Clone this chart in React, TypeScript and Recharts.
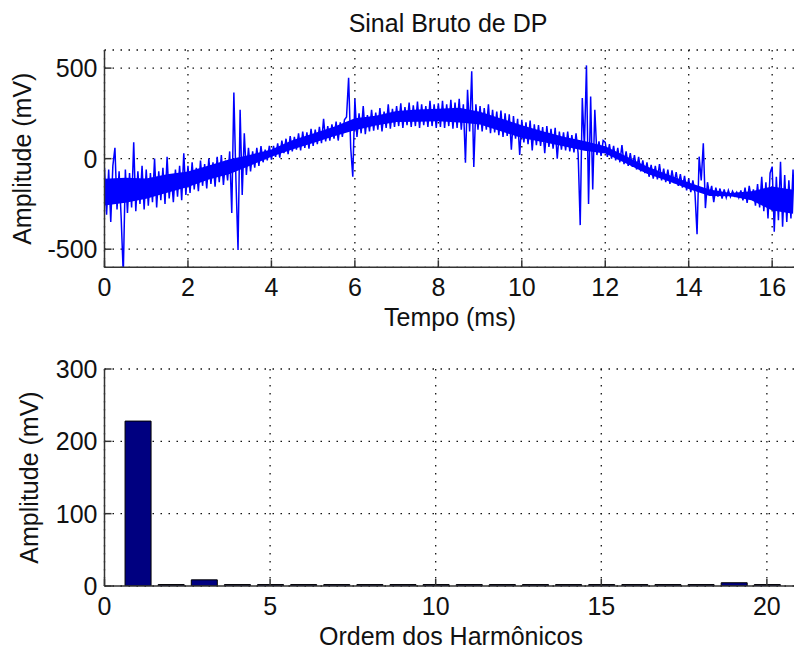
import React from 'react';
import { ComposedChart, Line, Area, BarChart, Bar, XAxis, YAxis, CartesianGrid } from 'recharts';

const FONT = '"Liberation Sans", Arial, Helvetica, sans-serif';
const FS = 25;
const AXIS = '#333333';
const TICK_LEN = 7;

// ---- Top plot: raw PD signal (mV), sampled every 0.05 ms ----
const passoTempo = 0.05;
const amplitudeSinal: number[] = [
  -50, -310, -60, -350, -40, 60, -280, -70, -330, -640, -60, -300, -80, -270, 90, -290, -70, -250, -40, -280,
  -60, -260, -80, -240, 0, -270, -70, -230, -50, -250, 10, -220, -90, -240, -60, -210, -40, -230, 30, -200,
  -40, -190, -20, -170, -50, -180, -10, -150, -30, -165, 0, -140, -20, -155, 10, -130, 20, -145, -10, -120,
  40, -300, 365, -120, -505, 270, -200, 140, -90, 60, -70, 40, -50, 60, -40, 70, -20, 50, -10, 70,
  -5, 70, 10, 85, 5, 100, 30, 110, 25, 125, 40, 120, 50, 140, 45, 150, 60, 145, 55, 165,
  70, 160, 80, 175, 85, 220, 95, 180, 100, 190, 110, 205, 100, 200, 120, 215, 230, 446, 60, -100,
  330, 120, 250, 140, 290, 135, 240, 150, 270, 155, 255, 160, 280, 150, 260, 170, 300, 165, 275, 175,
  290, 180, 305, 170, 285, 185, 310, 175, 295, 180, 315, 170, 300, 185, 290, 175, 320, 180, 300, 170,
  305, 175, 320, 170, 300, 180, 325, 165, 310, 170, 330, 160, 300, -22, 380, 150, 482, -46, 300, 160,
  290, 150, 280, 160, 300, 140, 270, 145, 260, 130, 265, 120, 250, 125, 245, 50, 235, 110, 220, 20,
  215, 90, 200, 80, 210, 45, 190, 75, 185, 70, 175, 30, 180, 65, 165, 55, 170, 0, 150, 50,
  145, 45, 150, 40, 130, 35, 140, 30, -367, 335, 60, 515, -251, 343, -170, 270, 20, 95, 15, 100,
  90, 10, 80, 0, 70, -10, 60, -20, 75, -30, 40, -40, 30, -45, 20, -60, 10, -70, -10, -80,
  -20, -100, -35, -110, -40, -115, -30, -120, -55, -130, -60, -140, -65, -135, -75, -150, -85, -160, -95, -175,
  -110, -185, -120, -190, -417, 11, -120, 85, -273, -130, -200, -150, -240, -160, -210, -165, -220, -170, -215, -175,
  -210, -180, -205, -185, -215, -175, -230, -160, -245, -150, -220, -170, -260, -140, -270, -100, -290, -130, -330, -80,
  -44, -404, -100, -340, -17, -376, -90, -350, -120, -330, -60, -370, -110, -320,
];

// Solid core of the noise band, read every 0.5 ms (upper / lower edge, mV)
const passoNucleo = 0.5;
const nucleoSuperior: number[] = [
  -111, -106, -109, -86, -71, -38, -3, 22, 50, 101, 139, 176, 223, 237, 263, 272, 276,
  281, 259, 222, 185, 152, 121, 97, 68, 13, -43, -87, -132, -170, -190, -180, -154, -172,
];
const nucleoInferior: number[] = [
  -259, -244, -221, -188, -157, -115, -85, -38, 10, 51, 87, 124, 157, 183, 203, 204, 206,
  199, 188, 151, 114, 92, 69, 43, 28, -27, -83, -123, -168, -206, -208, -230, -286, -304,
];

const ticksTempo = [0, 2, 4, 6, 8, 10, 12, 14, 16];
const ticksAmpSinal = [-500, 0, 500];
const dominioTempo: [number, number] = [0, 16.667];
const dominioAmpSinal: [number, number] = [-600, 600];

// ---- Bottom plot: harmonic amplitudes (mV) ----
const ordensHarm = [1, 2, 3, 4, 5, 6, 7, 8, 9, 10, 11, 12, 13, 14, 15, 16, 17, 18, 19, 20];
const amplitudesHarm = [228, 2, 8.5, 2, 2, 2, 2, 2, 2, 2, 2, 2, 2, 2, 2, 2, 2, 2, 4.5, 2];
const ticksOrdem = [0, 5, 10, 15, 20];
const ticksAmpHarm = [0, 100, 200, 300];
const dominioOrdem: [number, number] = [0, 21];
const dominioAmpHarm: [number, number] = [0, 300];

const razaoNucleo = Math.round(passoNucleo / passoTempo);
const dadosSinal = amplitudeSinal.map((v, i) => {
  const row: { t: number; v: number; faixa?: [number, number] } = { t: +(i * passoTempo).toFixed(2), v };
  if (i % razaoNucleo === 0) {
    const k = i / razaoNucleo;
    if (k < nucleoSuperior.length) row.faixa = [nucleoInferior[k], nucleoSuperior[k]];
  }
  return row;
});
const dadosHarm = ordensHarm.map((o, i) => ({ ordem: o, amp: amplitudesHarm[i] }));

const BottomTick = (props: any) => {
  const { x, y, payload } = props;
  return (
    <g>
      <line x1={x} y1={y} x2={x} y2={y - TICK_LEN} stroke={AXIS} strokeWidth={1.5} />
      <text x={x} y={y + 29} textAnchor="middle" fontSize={FS} fontFamily={FONT} fill="#111">
        {String(payload.value)}
      </text>
    </g>
  );
};

const TopTick = (props: any) => {
  const { x, y } = props;
  return <line x1={x} y1={y} x2={x} y2={y + TICK_LEN} stroke={AXIS} strokeWidth={1.5} />;
};

const LeftTick = (props: any) => {
  const { x, y, payload } = props;
  return (
    <g>
      <line x1={x} y1={y} x2={x + TICK_LEN} y2={y} stroke={AXIS} strokeWidth={1.5} />
      <text x={x - 7} y={y} dy="0.36em" textAnchor="end" fontSize={FS} fontFamily={FONT} fill="#111">
        {String(payload.value)}
      </text>
    </g>
  );
};

const axisLine = { stroke: AXIS, strokeWidth: 1.5 };
const gridProps = { stroke: '#111', strokeWidth: 1.3, strokeDasharray: '1.5 6.5' };

export default function App() {
  return (
    <div style={{ position: 'fixed', left: 0, top: 0, width: 794, height: 650, overflow: 'hidden', background: '#fff' }}>
      <div style={{ position: 'absolute', left: 0, top: 0 }}>
        <ComposedChart width={810} height={340} data={dadosSinal} margin={{ top: 50, right: 10, bottom: 0, left: 0 }}>
          <CartesianGrid {...gridProps} />
          <XAxis
            dataKey="t"
            type="number"
            domain={dominioTempo}
            ticks={ticksTempo}
            interval={0}
            allowDataOverflow
            height={72.7}
            tickSize={0}
            tickMargin={0}
            tickLine={false}
            axisLine={axisLine}
            tick={<BottomTick />}
          />
          <XAxis
            xAxisId="top"
            orientation="top"
            type="number"
            domain={dominioTempo}
            ticks={ticksTempo}
            interval={0}
            allowDataOverflow
            height={0}
            tickSize={0}
            tickMargin={0}
            tickLine={false}
            axisLine={axisLine}
            tick={<TopTick />}
          />
          <YAxis
            type="number"
            domain={dominioAmpSinal}
            ticks={ticksAmpSinal}
            interval={0}
            allowDataOverflow
            width={104.5}
            tickSize={0}
            tickMargin={0}
            tickLine={false}
            axisLine={axisLine}
            tick={<LeftTick />}
          />
          <Area
            dataKey="faixa"
            type="linear"
            stroke="none"
            fill="#0000ff"
            fillOpacity={1}
            connectNulls
            dot={false}
            activeDot={false}
            isAnimationActive={false}
          />
          <Line
            dataKey="v"
            type="linear"
            stroke="#0000ff"
            strokeWidth={1.5}
            dot={false}
            activeDot={false}
            isAnimationActive={false}
          />
        </ComposedChart>
      </div>
      <div style={{ position: 'absolute', left: 0, top: 340 }}>
        <BarChart width={810} height={310} data={dadosHarm} margin={{ top: 29, right: 10, bottom: 0, left: 0 }}>
          <CartesianGrid {...gridProps} />
          <XAxis
            dataKey="ordem"
            type="number"
            domain={dominioOrdem}
            ticks={ticksOrdem}
            interval={0}
            allowDataOverflow
            height={64}
            tickSize={0}
            tickMargin={0}
            tickLine={false}
            axisLine={axisLine}
            tick={<BottomTick />}
          />
          <XAxis
            xAxisId="top"
            orientation="top"
            type="number"
            domain={dominioOrdem}
            ticks={ticksOrdem}
            interval={0}
            allowDataOverflow
            height={0}
            tickSize={0}
            tickMargin={0}
            tickLine={false}
            axisLine={axisLine}
            tick={<TopTick />}
          />
          <YAxis
            type="number"
            domain={dominioAmpHarm}
            ticks={ticksAmpHarm}
            interval={0}
            allowDataOverflow
            width={104.5}
            tickSize={0}
            tickMargin={0}
            tickLine={false}
            axisLine={axisLine}
            tick={<LeftTick />}
          />
          <Bar dataKey="amp" fill="#000080" stroke="#000" strokeWidth={1} barSize={26} isAnimationActive={false} />
        </BarChart>
      </div>
      <svg
        width={794}
        height={650}
        style={{ position: 'absolute', left: 0, top: 0, pointerEvents: 'none' }}
        fontFamily={FONT}
        fontSize={FS}
        fill="#111"
      >
        <text x={448} y={32} textAnchor="middle">Sinal Bruto de DP</text>
        <text x={450} y={326} textAnchor="middle">Tempo (ms)</text>
        <text x={31} y={158.7} textAnchor="middle" transform="rotate(-90 31 158.7)">Amplitude (mV)</text>
        <text x={451} y={645} textAnchor="middle">Ordem dos Harmônicos</text>
        <text x={38} y={477.5} textAnchor="middle" transform="rotate(-90 38 477.5)">Amplitude (mV)</text>
      </svg>
    </div>
  );
}
